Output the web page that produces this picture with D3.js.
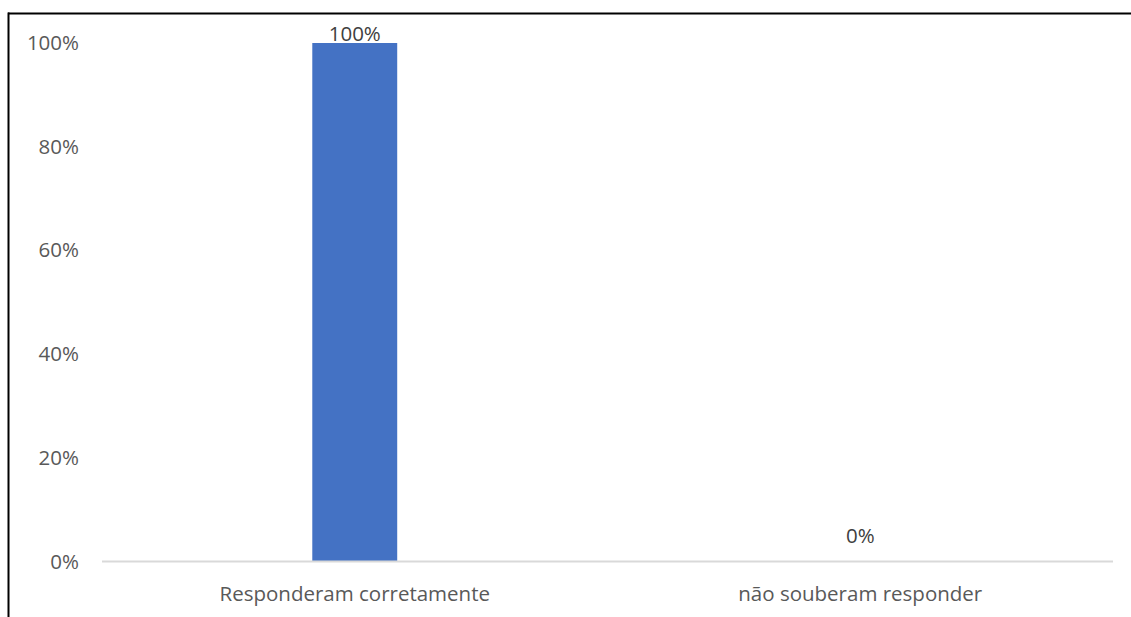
<!DOCTYPE html>
<html>
<head>
<meta charset="utf-8">
<script src="https://cdn.jsdelivr.net/npm/d3@7"></script>
<style>
  html, body { margin: 0; padding: 0; background: #fff; }
  svg { display: block; }
  text { font-family: "Open Sans", "Liberation Sans", sans-serif; fill: #595959; }
</style>
</head>
<body>
<svg id="chart" width="1131" height="617"></svg>
<script>
// Answers to the question
const categories = ["Responderam corretamente", "não souberam responder"];
const values = [1.0, 0.0];
const yTicks = [0, 0.2, 0.4, 0.6, 0.8, 1.0];

const W = 1131, H = 617;
const svg = d3.select("#chart");
const fontSize = "20.5px";

const plot = { left: 102, right: 1113, top: 43, bottom: 561.5 };

const x = d3.scaleBand().domain(categories).range([plot.left, plot.right]).padding(0);
const barW = x.bandwidth() * 0.168;
const y = d3.scaleLinear().domain([0, 1]).range([plot.bottom, plot.top]);
const pct = d3.format(".0%");

// Frame lines along the top and left edges
svg.append("line").attr("x1", 8).attr("x2", W).attr("y1", 13.5).attr("y2", 13.5)
  .attr("stroke", "#000").attr("stroke-width", 2);
svg.append("line").attr("x1", 8.5).attr("x2", 8.5).attr("y1", 12.5).attr("y2", H)
  .attr("stroke", "#000").attr("stroke-width", 2);

// Y axis labels
const yAxis = d3.axisLeft(y).tickValues(yTicks).tickFormat(pct).tickSize(0).tickPadding(0);
const gy = svg.append("g").attr("transform", `translate(79,0)`).call(yAxis);
gy.select(".domain").remove();
gy.selectAll("text").style("font-size", fontSize).attr("fill", "#595959")
  .attr("font-family", null);

// Bars
svg.append("g").selectAll("rect").data(values).join("rect")
  .attr("x", (d, i) => x(categories[i]) + x.bandwidth() / 2 - barW / 2)
  .attr("width", barW)
  .attr("y", d => y(d))
  .attr("height", d => y(0) - y(d))
  .attr("fill", "#4472c4");

// Baseline
svg.append("line").attr("x1", plot.left).attr("x2", plot.right)
  .attr("y1", y(0)).attr("y2", y(0))
  .attr("stroke", "#d9d9d9").attr("stroke-width", 2);

// Value labels (kept inside the frame when the bar reaches the top)
svg.append("g").selectAll("text").data(values).join("text")
  .attr("x", (d, i) => x(categories[i]) + x.bandwidth() / 2)
  .attr("y", d => Math.max(y(d) - 18.5, 41))
  .attr("text-anchor", "middle")
  .style("font-size", fontSize)
  .style("fill", "#404040")
  .text(d => pct(d));

// Category labels
const xAxis = d3.axisBottom(x).tickSize(0).tickPadding(0);
const gx = svg.append("g").attr("transform", `translate(0,${plot.bottom + 25})`).call(xAxis);
gx.select(".domain").remove();
gx.selectAll("text").style("font-size", fontSize).attr("fill", "#595959")
  .attr("font-family", null);
</script>
</body>
</html>
